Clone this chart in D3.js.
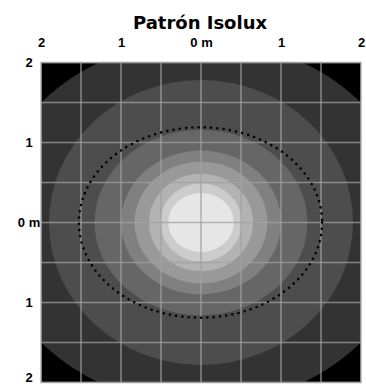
<!DOCTYPE html>
<html><head><meta charset="utf-8">
<script src="https://cdn.jsdelivr.net/npm/d3@7"></script>
<style>html,body{margin:0;padding:0;background:#fff;}svg{display:block;}</style>
</head><body>
<script>
// Isolux bands (outermost first): semi-axes in metres and fill
const bandRx = [2.65, 1.90, 1.33, 1.00, 0.83, 0.65, 0.51, 0.41];
const bandRy = [2.28, 1.78, 1.16, 0.90, 0.76, 0.61, 0.49, 0.37];
const bandColors = ["#333333", "#4d4d4d", "#666666", "#808080", "#999999", "#b3b3b3", "#cccccc", "#e6e6e6"];
const backgroundColor = "#000000";
// dotted reference contour (metres)
const dottedRx = 1.52, dottedRy = 1.19;
// axes
const tickValues = [-2, -1, 0, 1, 2];
const tickLabels = ["2", "1", "0 m", "1", "2"];
const gridValues = [-2, -1.5, -1, -0.5, 0, 0.5, 1, 1.5, 2];
const title = "Patrón Isolux";

const W = 366, H = 385;
const svg = d3.select("body").append("svg").attr("width", W).attr("height", H);
const x = d3.scaleLinear().domain([-2, 2]).range([41, 361]);
const y = d3.scaleLinear().domain([2, -2]).range([62.5, 382.5]);

svg.append("defs").append("clipPath").attr("id", "clip")
  .append("rect").attr("x", x(-2)).attr("y", y(2)).attr("width", x(2) - x(-2)).attr("height", y(-2) - y(2));

const plot = svg.append("g").attr("clip-path", "url(#clip)");
plot.append("rect").attr("x", x(-2)).attr("y", y(2)).attr("width", x(2) - x(-2)).attr("height", y(-2) - y(2)).attr("fill", backgroundColor);

plot.selectAll("ellipse.band").data(bandRx.map((r, i) => ({rx: r, ry: bandRy[i], c: bandColors[i]})))
  .enter().append("ellipse").attr("class", "band")
  .attr("cx", x(0)).attr("cy", y(0))
  .attr("rx", d => x(d.rx) - x(0)).attr("ry", d => y(0) - y(d.ry))
  .attr("fill", d => d.c);

// grid
const gridColor = "rgb(160,160,160)";
plot.selectAll("line.gx").data(gridValues).enter().append("line")
  .attr("x1", d => x(d)).attr("x2", d => x(d)).attr("y1", y(2)).attr("y2", y(-2))
  .attr("stroke", gridColor).attr("stroke-opacity", 0.75).attr("stroke-width", 1.6);
plot.selectAll("line.gy").data(gridValues).enter().append("line")
  .attr("y1", d => y(d)).attr("y2", d => y(d)).attr("x1", x(-2)).attr("x2", x(2))
  .attr("stroke", gridColor).attr("stroke-opacity", 0.75).attr("stroke-width", 1.6);
svg.append("rect").attr("x", x(-2)).attr("y", y(2)).attr("width", x(2) - x(-2)).attr("height", y(-2) - y(2))
  .attr("fill", "none").attr("stroke", gridColor).attr("stroke-opacity", 0.75).attr("stroke-width", 1.6);

// dotted contour
plot.append("ellipse").attr("cx", x(0) - 0.5).attr("cy", y(0))
  .attr("rx", x(dottedRx) - x(0)).attr("ry", y(0) - y(dottedRy))
  .attr("fill", "none").attr("stroke", "#000").attr("stroke-width", 2.6)
  .attr("stroke-linecap", "round").attr("stroke-dasharray", "0 6.3");

// title
svg.append("text").attr("x", 200).attr("y", 28.5).attr("text-anchor", "middle")
  .attr("font-family", "DejaVu Sans").attr("font-weight", "bold").attr("font-size", 18)
  .attr("fill", "#000").text(title);

const labelFont = "Liberation Sans, Arial, sans-serif";
// top labels
svg.selectAll("text.tx").data(tickValues).enter().append("text")
  .attr("x", d => x(d) + 0.5).attr("y", 47).attr("text-anchor", "middle")
  .attr("font-family", labelFont).attr("font-weight", "bold").attr("font-size", 13)
  .attr("fill", "#000").text((d, i) => tickLabels[i]);
// left labels
svg.selectAll("text.ty").data(tickValues.slice().reverse()).enter().append("text")
  .attr("x", 29).attr("y", d => Math.min(y(d) + 4.5, H - 3)).attr("text-anchor", "middle")
  .attr("font-family", labelFont).attr("font-weight", "bold").attr("font-size", 13)
  .attr("fill", "#000").text((d, i) => tickLabels[i]);
</script>
</body></html>
